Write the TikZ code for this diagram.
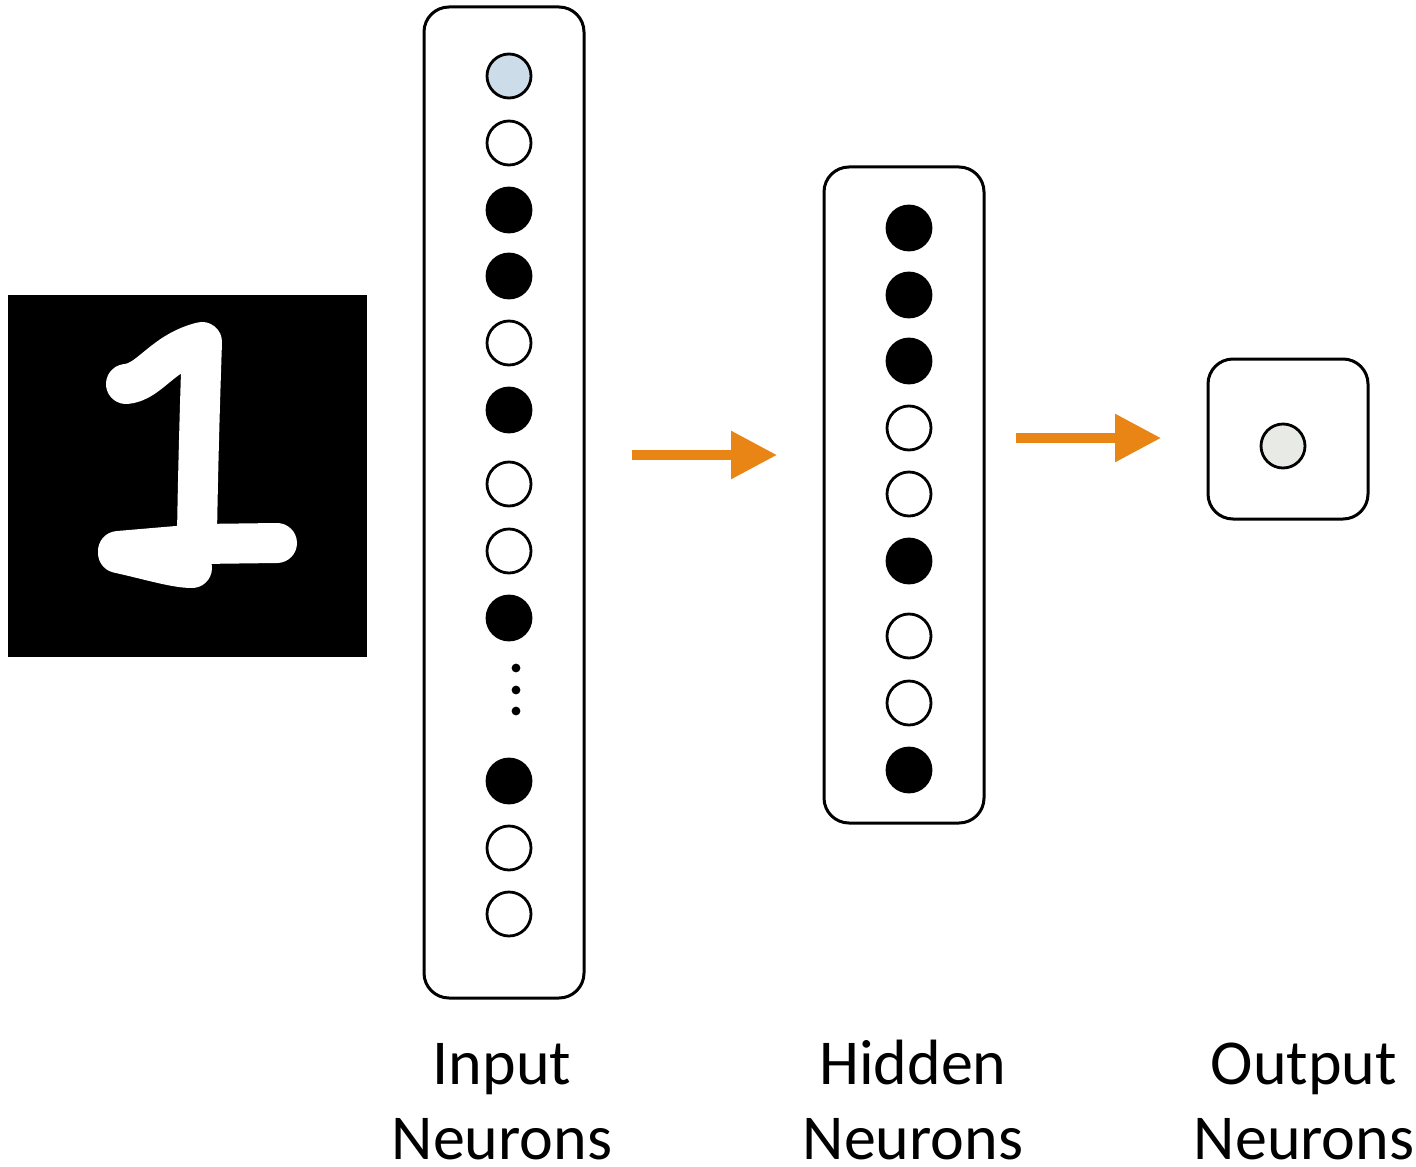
\documentclass[tikz,border=0pt]{standalone}
\usepackage{fontspec}
\setmainfont{Carlito}
\usetikzlibrary{arrows.meta}
\definecolor{flowarrow}{HTML}{E88514}
\definecolor{firstcell}{HTML}{CCDCE8}
\definecolor{outcell}{HTML}{E8EAE6}
\tikzset{
  layerbox/.style={draw=black, line width=1.5pt, rounded corners=12.5pt, fill=white,
    minimum width=80pt, inner sep=0pt},
  neuron/.style={circle, draw=black, line width=1.4pt, minimum size=22pt, inner sep=0pt},
  on/.style={neuron, fill=black},
  off/.style={neuron, fill=white},
  flow/.style={draw=flowarrow, line width=4.6pt,
    -{Triangle[length=23pt, width=23pt, fill=flowarrow]}},
  caption/.style={font=\fontsize{32}{37.5}\selectfont, anchor=base, inner sep=0pt},
  ink/.style={draw=white, line width=20pt, line cap=round, line join=round}
}
\begin{document}
\begin{tikzpicture}[x=0.5pt, y=-0.5pt]
\useasboundingbox (0,0) rectangle (1416,1166);

% handwritten digit
\node[fill=black, minimum width=179.5pt, minimum height=181pt, inner sep=0pt] (digit) at (187.5,476) {};
\draw[ink] (126,384) .. controls (150,382) and (162,352) .. (202,342)
           .. controls (200,400) and (198,470) .. (197,535);
\draw[ink] (277,543) -- (200,544) -- (118,551);
\draw[ink] (118,553) .. controls (150,560) and (175,568) .. (192,568);

% input layer
\node[layerbox, minimum height=495.5pt] (inbox) at (504,502.5) {};
\node[neuron, fill=firstcell] (i1) at (509,76) {};
\node[off] (i2) at (509,143) {};
\node[on]  (i3) at (509,210) {};
\node[on]  (i4) at (509,276) {};
\node[off] (i5) at (509,343) {};
\node[on]  (i6) at (509,410) {};
\node[off] (i7) at (509,484) {};
\node[off] (i8) at (509,551) {};
\node[on]  (i9) at (509,618) {};
\foreach \yy/\nm in {668/d1, 690/d2, 711/d3}
  \fill (516,\yy) circle (2.2pt) coordinate (\nm);
\node[on]  (i10) at (509,781) {};
\node[off] (i11) at (509,848) {};
\node[off] (i12) at (509,914) {};

% hidden layer
\node[layerbox, minimum height=328pt] (hidbox) at (904,495) {};
\node[on]  (h1) at (909,228) {};
\node[on]  (h2) at (909,295) {};
\node[on]  (h3) at (909,361) {};
\node[off] (h4) at (909,428) {};
\node[off] (h5) at (909,494) {};
\node[on]  (h6) at (909,561) {};
\node[off] (h7) at (909,636) {};
\node[off] (h8) at (909,703) {};
\node[on]  (h9) at (909,770) {};

% output layer
\node[layerbox, minimum height=80pt] (outbox) at (1288,439) {};
\node[neuron, fill=outcell] (o1) at (1283,446) {};

% flow arrows
\coordinate (a1s) at (632,455);
\coordinate (a1e) at (777,455);
\coordinate (a2s) at (1016,438);
\coordinate (a2e) at (1161,438);
\draw[flow] (a1s) -- (a1e);
\draw[flow] (a2s) -- (a2e);

% captions, one node per line, placed on their baselines
\node[caption] (lin1)  at (502,1084)  {Input};
\node[caption] (lin2)  at (502,1159)  {Neurons};
\node[caption] (lhid1) at (913,1084)  {Hidden};
\node[caption] (lhid2) at (913,1159)  {Neurons};
\node[caption] (lout1) at (1304,1084) {Output};
\node[caption] (lout2) at (1304,1159) {Neurons};
\end{tikzpicture}
\end{document}
